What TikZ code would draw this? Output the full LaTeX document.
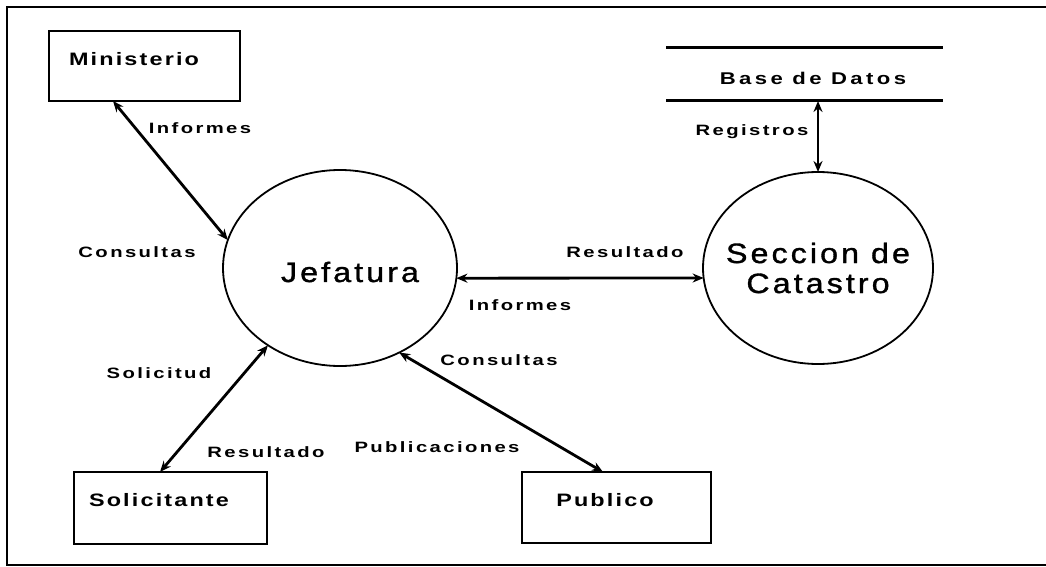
\documentclass[tikz,border=0pt]{standalone}
\usepackage{fontspec}
\setmainfont{Liberation Sans}
\newfontfamily\lblfont[FakeStretch=1.35,LetterSpace=16]{Liberation Sans}
\newfontfamily\boxfont[FakeStretch=1.3,LetterSpace=12]{Liberation Sans}
\newfontfamily\dbfont[FakeStretch=1.3,LetterSpace=20]{Liberation Sans}
\newfontfamily\bigfont[FakeStretch=1.15,LetterSpace=11,FakeBold=1.2]{Liberation Sans}
\usetikzlibrary{arrows.meta,shapes.geometric}
\tikzset{
  entity/.style={draw, line width=1.8pt, inner sep=0pt, outer sep=0pt},
  proc/.style={ellipse, draw, line width=1.8pt, inner sep=0pt, outer sep=0pt},
  flow/.style={{Stealth[length=11pt,width=9pt]}-{Stealth[length=11pt,width=9pt]}, line width=2.8pt},
  lbl/.style={font=\lblfont\fontsize{15}{17}\selectfont\bfseries, inner sep=0pt},
  boxtxt/.style={font=\boxfont\fontsize{18}{20}\selectfont\bfseries, inner sep=0pt},
  dbtxt/.style={font=\dbfont\fontsize{17}{19}\selectfont\bfseries, inner sep=0pt},
  bigtxt/.style={font=\bigfont\fontsize{28}{30}\selectfont, inner sep=0pt, align=center},
  frame/.style={line width=2.4pt}
}
\begin{document}
\begin{tikzpicture}[x=1pt,y=-1pt]
\useasboundingbox (0,0) rectangle (1046,567);
\fill[white] (0,0) rectangle (1046,567);
% frame
\draw[frame] (1046,7) -- (7,7) -- (7,565) -- (1046,565);

% entities
\node[entity, minimum width=191pt, minimum height=70pt] (min) at (144.5,66) {};
\node[boxtxt] (minT) at (134,59) {Ministerio};
\node[entity, minimum width=193pt, minimum height=72pt] (sol) at (170.5,508) {};
\node[boxtxt] (solT) at (159,500) {Solicitante};
\node[entity, minimum width=189pt, minimum height=71pt] (pub) at (616.5,507.5) {};
\node[boxtxt] (pubT) at (605,500) {Publico};

% processes
\node[proc, minimum width=234pt, minimum height=196pt] (jef) at (340,268) {};
\node[bigtxt] (jefT) at (350,272) {Jefatura};
\node[proc, minimum width=230pt, minimum height=192pt] (sec) at (818,268) {};
\node[bigtxt] (secT) at (818,268) {Seccion de\\Catastro};

% data store
\node[minimum width=277pt, minimum height=53pt, inner sep=0pt, outer sep=0pt] (db) at (804.5,74.5) {};
\draw[line width=3pt] (db.north west) -- (db.north east);
\draw[line width=3pt] (db.south west) -- (db.south east);
\node[dbtxt] (dbT) at (813,78) {Base de Datos};

% flows
\draw[flow] ([xshift=64pt]min.south west) -- (jef.166);
\draw[flow] ([xshift=86pt]sol.north west) -- (jef.227);
\draw[flow] (jef.305) -- ([xshift=81pt]pub.north west);
\draw[flow] (jef.-5) -- (sec.185);
\draw[flow] (sec.north |- db.south) -- (sec.north);

% labels
\node[lbl] (l1) at (200,128) {Informes};
\node[lbl] (l2) at (137,252) {Consultas};
\node[lbl] (l3) at (159,373) {Solicitud};
\node[lbl] (l4) at (266,452) {Resultado};
\node[lbl] (l5) at (499,360) {Consultas};
\node[lbl] (l6) at (437,447) {Publicaciones};
\node[lbl] (l7) at (625,252) {Resultado};
\node[lbl] (l8) at (520,305) {Informes};
\node[lbl] (l9) at (752,132) {Registros};
\end{tikzpicture}
\end{document}
